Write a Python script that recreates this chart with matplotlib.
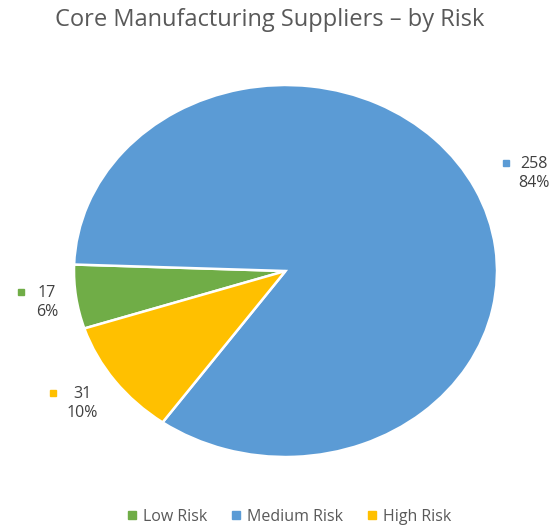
import matplotlib
matplotlib.use('Agg')
from matplotlib import pyplot as plt
from matplotlib.lines import Line2D

# data
categories = ['Low Risk', 'Medium Risk', 'High Risk']
counts = [17, 258, 31]
colors = ['#70AD47', '#5B9BD5', '#FFC000']

# label anchors in pixels from top-left: (text centre x, first line y, square x)
label_pos = [(47, 292, 21), (534, 163, 506), (82, 393, 53)]

W, H = 556, 529
plt.rcParams['font.family'] = ['Open Sans', 'DejaVu Sans']

fig = plt.figure(figsize=(W / 100, H / 100), dpi=100)

# pie ellipse: left 74, right 497, top 85, bottom 457 (pixels)
ax = fig.add_axes([74 / W, 1 - 457 / H, 423 / W, 372 / H])
ax.pie(counts, colors=colors, startangle=198, counterclock=False,
       wedgeprops=dict(edgecolor='white', linewidth=1.8))
ax.set_aspect('auto')
ax.set_xlim(-1, 1)
ax.set_ylim(-1, 1)
ax.axis('off')

fig.text(270 / W, 1 - 20 / H, 'Core Manufacturing Suppliers \u2013 by Risk',
         ha='center', va='center', fontsize=17, color='#595959')

total = sum(counts)
for v, c, (tx, ty, sx) in zip(counts, colors, label_pos):
    pct = round(100 * v / total)
    fig.text(tx / W, 1 - (ty + 10.5) / H, f'{v}\n{pct}%', ha='center', va='center',
             fontsize=11.5, color='#404040', linespacing=1.3)
    fig.add_artist(Line2D([sx / W], [1 - ty / H], marker='s', markersize=5,
                          color=c, linestyle='none', transform=fig.transFigure))

handles = [Line2D([], [], marker='s', markersize=5.5, color=c, linestyle='none')
           for c in colors]
fig.legend(handles, categories, loc='center', bbox_to_anchor=(289 / W, 1 - 517 / H),
           ncol=3, frameon=False, fontsize=11.5, handlelength=0.6, handletextpad=0.4,
           columnspacing=1.5, labelcolor='#595959')

fig.savefig('out.png', dpi=100)
